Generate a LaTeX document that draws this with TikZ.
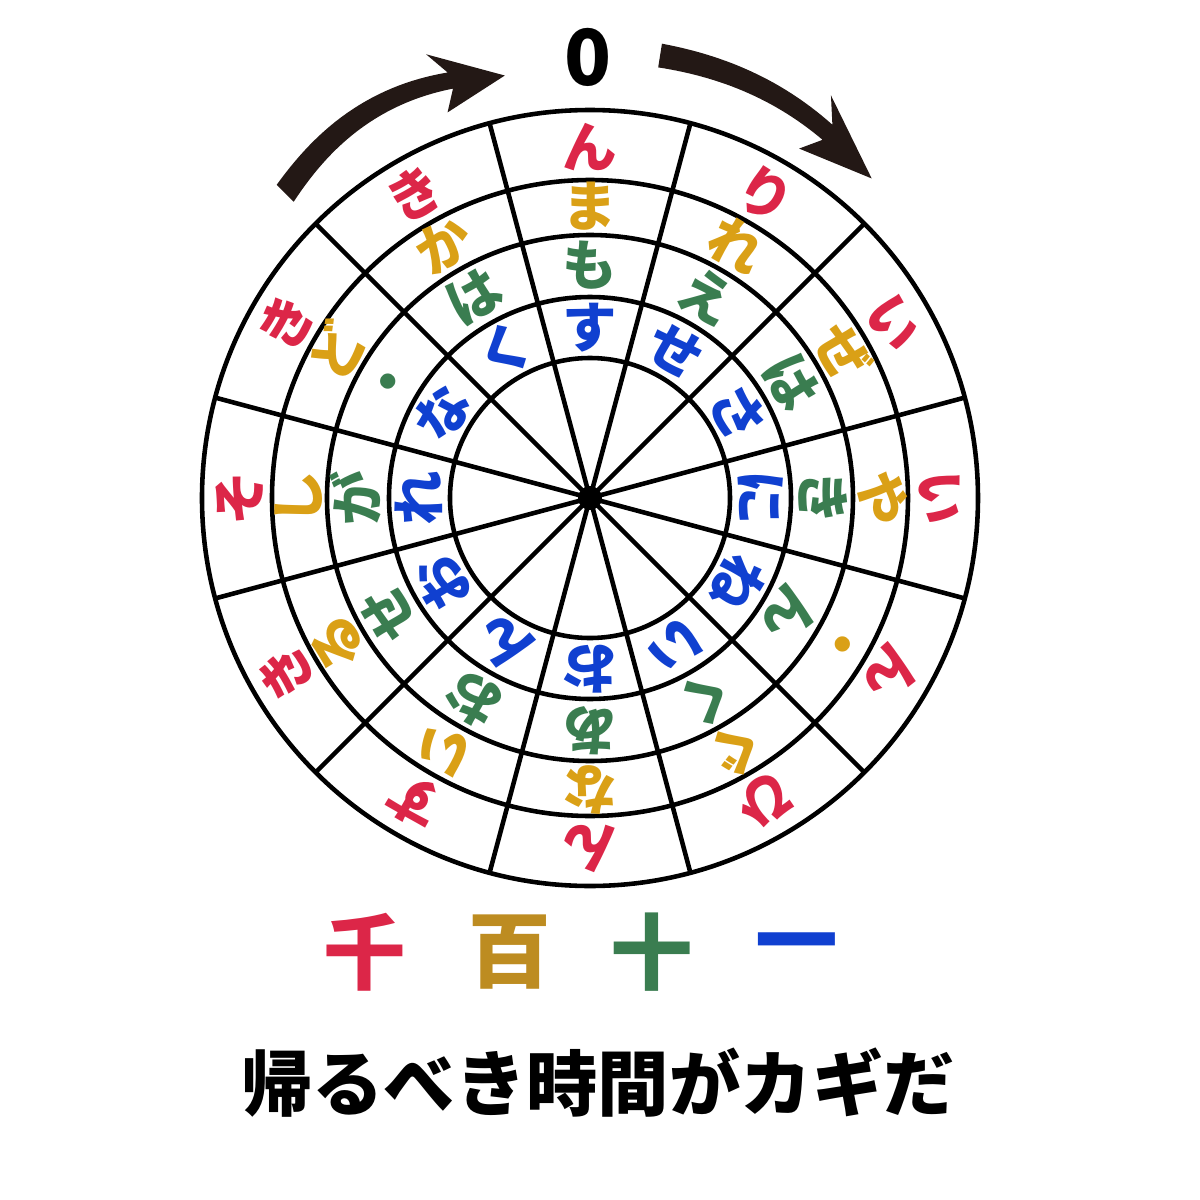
\documentclass[tikz,border=0pt]{standalone}
\usepackage{fontspec}
\newfontfamily\jpfont{Noto Sans CJK JP}
\definecolor{senred}{RGB}{220,38,72}
\definecolor{hyakugold}{RGB}{218,160,22}
\definecolor{hyakudark}{RGB}{189,140,33}
\definecolor{juugreen}{RGB}{58,125,80}
\definecolor{ichiblue}{RGB}{16,64,208}
\definecolor{arrowink}{RGB}{35,24,21}

% brush arrow along an arc round the hub:
% #1 tail angle, #2 head base angle, #3 tip angle, #4 radius at tail, #5 radius at tip,
% #6 half width at tail, #7 half width at head base, #8 half width of the head, #9 bulge
\newcommand{\brusharrow}[9]{%
  \pgfmathsetmacro\bTail{#1}%
  \pgfmathsetmacro\bBase{#2}%
  \pgfmathsetmacro\bTip{#3}%
  \pgfmathsetmacro\bBarb{#2+0.25*(#2-#3)}%
  \pgfmathsetmacro\bRbarb{#4+(#5-#4)*(\bBarb-#1)/(#3-#1)+#9*sin(180*(\bBarb-#1)/(#3-#1))}%
  \fill[arrowink]
    plot[domain=\bTail:\bBase,samples=30]
      (\x:{#4+(#5-#4)*(\x-#1)/(#3-#1)+#9*sin(180*(\x-#1)/(#3-#1))+#6+(#7-#6)*(\x-#1)/(#2-#1)})
    -- (\bBarb:{\bRbarb+#8}) -- (\bTip:#5) -- (\bBarb:{\bRbarb-#8})
    -- plot[domain=\bBase:\bTail,samples=30]
      (\x:{#4+(#5-#4)*(\x-#1)/(#3-#1)+#9*sin(180*(\x-#1)/(#3-#1))-#6-(#7-#6)*(\x-#1)/(#2-#1)})
    -- cycle;
}

\begin{document}
\begin{tikzpicture}[
    ring/.style={line width=1.3pt},
    spoke/.style={line width=1.3pt},
    kana/.style={font=\jpfont\bfseries\fontsize{15.5}{15.5}\selectfont,inner sep=0pt,
      text height=11.8pt,text depth=0pt},
    numeral/.style={font=\jpfont\bfseries\fontsize{23.5}{23.5}\selectfont,inner sep=0pt},
  ]
  \useasboundingbox (-5.90,-7.02) rectangle (6.10,4.98);
  \coordinate (hub) at (0,0);
  % five rings and twelve spokes
  \foreach \r in {1.40,2.01,2.63,3.18,3.88}
    \draw[ring] (hub) circle (\r);
  \foreach \k in {0,...,11}
    \draw[spoke] (hub) -- ({105-30*\k}:3.88);
  \fill (hub) circle (0.12);
  % kana per sector: ones, tens, hundreds, thousands
  \foreach \k/\one/\ten/\hun/\tho in {0/す/も/ま/ん, 1/せ/え/れ/り, 2/さ/は/ぜ/い,
      3/に/き/や/い, 4/ね/ん/・/ん, 5/い/く/ぐ/ひ, 6/お/あ/な/ん, 7/ん/お/い/す,
      8/お/せ/る/き, 9/れ/が/し/そ, 10/な/・/ど/き, 11/く/は/か/き}{
    \node[kana,ichiblue,rotate=-30*\k] (one\k) at ({90-30*\k}:1.71) {\one};
    \node[kana,juugreen,rotate=-30*\k] (ten\k) at ({90-30*\k}:2.33) {\ten};
    \node[kana,hyakugold,rotate=-30*\k] (hun\k) at ({90-30*\k}:2.92) {\hun};
    \node[kana,senred,rotate=-30*\k] (tho\k) at ({90-30*\k}:3.51) {\tho};
  }
  % turning arrows and the zero mark
  \brusharrow{135}{108.5}{101.4}{4.31}{4.31}{0.12}{0.085}{0.31}{0.15}
  \brusharrow{81}{57}{48.6}{4.48}{4.26}{0.12}{0.09}{0.31}{0.06}
  \node[font=\jpfont\bfseries\fontsize{22}{22}\selectfont] (zero) at (-0.02,4.41) {0};
  % place names and the hint
  \node[numeral,senred] (sen) at (-2.25,-4.54) {千};
  \node[numeral,hyakudark] (hyaku) at (-0.80,-4.54) {百};
  \node[numeral,juugreen] (juu) at (0.62,-4.54) {十};
  \node[numeral,ichiblue] (ichi) at (2.07,-4.54) {一};
  \node[font=\jpfont\bfseries\fontsize{20.3}{20.3}\selectfont] (hint) at (0.08,-5.85) {帰るべき時間がカギだ};
\end{tikzpicture}
\end{document}
